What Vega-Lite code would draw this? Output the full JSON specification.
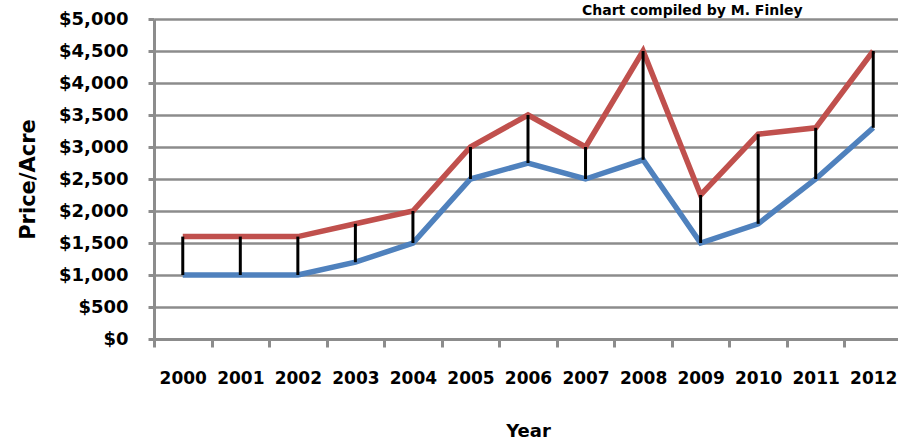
{
  "$schema": "https://vega.github.io/schema/vega-lite/v6.json",
  "autosize": {"type": "none"},
  "width": 748,
  "height": 320,
  "padding": {"left": 154, "top": 19, "right": 0, "bottom": 108},
  "background": "white",
  "title": {
    "text": "Chart compiled by M. Finley",
    "font": "DejaVu Sans",
    "fontSize": 14,
    "fontWeight": "bold",
    "color": "black",
    "anchor": "start",
    "frame": "group",
    "dx": 428,
    "offset": 0,
    "dy": 19,
    "baseline": "alphabetic"
  },
  "config": {
    "axisY": {
      "titleFont": "DejaVu Sans",
      "titleFontSize": 21,
      "titleFontWeight": "bold",
      "titleColor": "black",
      "titlePadding": 20,
      "format": "$,.0f",
      "labelOverlap": false,
      "labelFont": "DejaVu Sans",
      "labelFontSize": 18,
      "labelFontWeight": "bold",
      "labelColor": "black",
      "labelPadding": 20,
      "tickSize": 6,
      "tickWidth": 3,
      "tickColor": "#8c8c8c",
      "domainColor": "#8c8c8c",
      "domainWidth": 3,
      "grid": true,
      "gridColor": "#8c8c8c",
      "gridWidth": 2.5
    }
  },
  "data": {
    "values": [
      {"Year": "2000", "High": 1600, "Low": 1000},
      {"Year": "2001", "High": 1600, "Low": 1000},
      {"Year": "2002", "High": 1600, "Low": 1000},
      {"Year": "2003", "High": 1800, "Low": 1200},
      {"Year": "2004", "High": 2000, "Low": 1500},
      {"Year": "2005", "High": 3000, "Low": 2500},
      {"Year": "2006", "High": 3500, "Low": 2750},
      {"Year": "2007", "High": 3000, "Low": 2500},
      {"Year": "2008", "High": 4500, "Low": 2800},
      {"Year": "2009", "High": 2250, "Low": 1500},
      {"Year": "2010", "High": 3200, "Low": 1800},
      {"Year": "2011", "High": 3300, "Low": 2500},
      {"Year": "2012", "High": 4500, "Low": 3300}
    ]
  },
  "encoding": {
    "x": {
      "field": "Year",
      "type": "ordinal",
      "bandPosition": 0.5,
      "scale": {"type": "band", "paddingInner": 0, "paddingOuter": 0},
      "axis": {
        "title": "Year",
        "titleFont": "DejaVu Sans",
        "titleFontSize": 18,
        "titleFontWeight": "bold",
        "titleColor": "black",
        "titlePadding": 36,
        "labelAngle": 0,
        "labelFont": "DejaVu Sans",
        "labelFontSize": 17,
        "labelFontWeight": "bold",
        "labelColor": "black",
        "labelPadding": 23,
        "labelOverlap": false,
        "tickBand": "extent",
        "tickSize": 8,
        "tickWidth": 3,
        "tickColor": "#8c8c8c",
        "domainColor": "#8c8c8c",
        "domainWidth": 3,
        "grid": false
      }
    }
  },
  "layer": [
    {
      "mark": {"type": "line", "color": "#C0504D", "strokeWidth": 5.5},
      "encoding": {
        "y": {
          "field": "High",
          "type": "quantitative",
          "scale": {"domain": [0, 5000], "nice": false},
          "axis": {"title": "Price/Acre", "values": [0, 500, 1000, 1500, 2000, 2500, 3000, 3500, 4000, 4500, 5000]}
        }
      }
    },
    {
      "mark": {"type": "line", "color": "#4F81BD", "strokeWidth": 5.5},
      "encoding": {
        "y": {
          "field": "Low",
          "type": "quantitative",
          "axis": {"title": "Price/Acre", "values": [0, 500, 1000, 1500, 2000, 2500, 3000, 3500, 4000, 4500, 5000]}
        }
      }
    },
    {
      "mark": {"type": "rule", "color": "black", "strokeWidth": 3},
      "encoding": {
        "y": {
          "field": "Low",
          "type": "quantitative",
          "axis": {"title": "Price/Acre", "values": [0, 500, 1000, 1500, 2000, 2500, 3000, 3500, 4000, 4500, 5000]}
        },
        "y2": {"field": "High"}
      }
    }
  ]
}
